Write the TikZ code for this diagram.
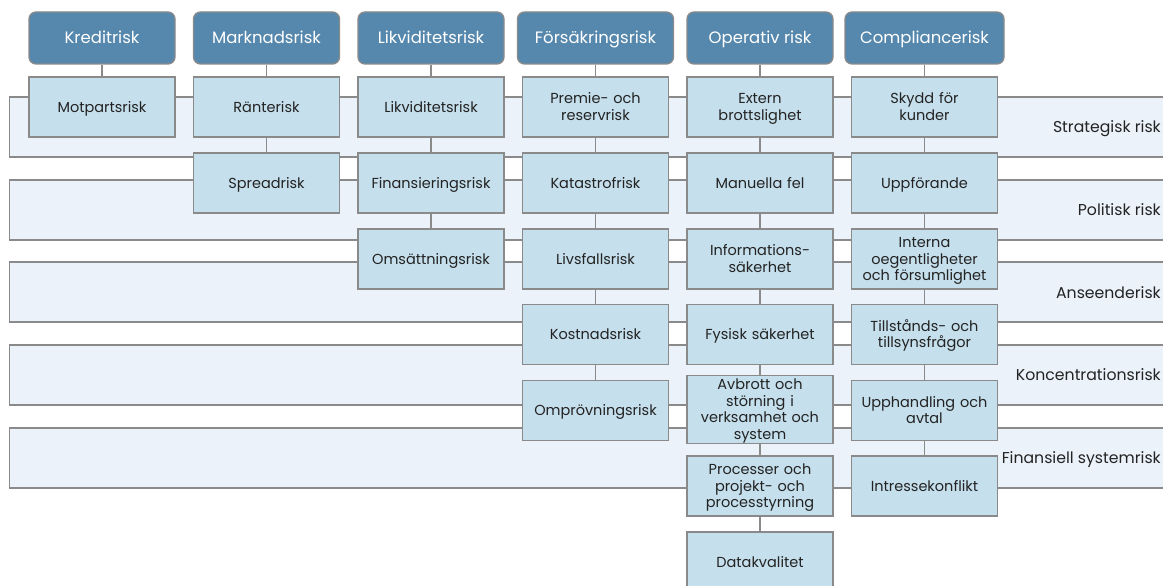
\documentclass[tikz,border=0pt]{standalone}
\usepackage{fontspec}
\setmainfont{Poppins}
\definecolor{headblue}{RGB}{86,136,173}
\definecolor{boxblue}{RGB}{197,223,236}
\definecolor{bandblue}{RGB}{235,242,249}
\definecolor{linegray}{RGB}{138,138,138}
\definecolor{txtgray}{RGB}{35,35,35}

\begin{document}
\begin{tikzpicture}[x=1pt, y=-1pt,
  head/.style={draw=linegray, fill=headblue, rounded corners=7pt, line width=1.3pt, minimum width=146pt, minimum height=52pt, inner sep=0pt, text height=15.6pt, text depth=4pt, text=white, font=\fontsize{16.5}{19}\selectfont},
  sub/.style={draw=linegray, fill=boxblue, line width=1.3pt, minimum width=146pt, minimum height=60pt, inner sep=0pt, text width=144pt, align=center, text=txtgray, font=\fontsize{14.5}{16.5}\selectfont,
    execute at begin node={\rule{0pt}{14.2pt}}, execute at end node={\rule[-4pt]{0pt}{0pt}}},
  band/.style={draw=linegray, fill=bandblue, line width=1.3pt},
  bandlabel/.style={anchor=east, inner sep=0pt, text height=15pt, text depth=4pt, text=txtgray, font=\fontsize{15.7}{18}\selectfont},
  link/.style={draw=linegray, line width=1.3pt}]
  \useasboundingbox (0,0) rectangle (1163,586);
  \clip (0,0) rectangle (1163,586);

  % Risk bands behind the boxes
  \draw[band] (9.5,97) rectangle (1180,157);
  \draw[band] (9.5,180) rectangle (1180,240);
  \draw[band] (9.5,262) rectangle (1180,322);
  \draw[band] (9.5,345) rectangle (1180,405);
  \draw[band] (9.5,428) rectangle (1180,488);
  \node[bandlabel] (strat) at (1161,127) {Strategisk risk};
  \node[bandlabel] (polit) at (1161,210) {Politisk risk};
  \node[bandlabel] (anseende) at (1161,293) {Anseenderisk};
  \node[bandlabel] (konc) at (1161,375) {Koncentrationsrisk};
  \node[bandlabel] (finsys) at (1161,458) {Finansiell systemrisk};

  % Main categories
  \node[head] (kredit) at (102,38) {Kreditrisk};
  \node[head] (marknad) at (266.5,38) {Marknadsrisk};
  \node[head] (likvid) at (431,38) {Likviditetsrisk};
  \node[head, minimum width=156pt] (forsak) at (595.5,38) {Försäkringsrisk};
  \node[head] (operativ) at (760,38) {Operativ risk};
  \node[head, minimum width=159pt] (compl) at (924.5,38) {Compliancerisk};

  % Kreditrisk
  \node[sub] (motpart) at (102,107) {Motpartsrisk};

  % Marknadsrisk
  \node[sub] (ranta) at (266.5,107) {Ränterisk};
  \node[sub] (spread) at (266.5,183) {Spreadrisk};

  % Likviditetsrisk
  \node[sub] (likv) at (431,107) {Likviditetsrisk};
  \node[sub] (finans) at (431,183) {Finansieringsrisk};
  \node[sub] (omsatt) at (431,259) {Omsättningsrisk};

  % Försäkringsrisk
  \node[sub] (premie) at (595.5,107) {Premie- och\\reservrisk};
  \node[sub] (katastrof) at (595.5,183) {Katastrofrisk};
  \node[sub] (livsfall) at (595.5,259) {Livsfallsrisk};
  \node[sub] (kostnad) at (595.5,334.5) {Kostnadsrisk};
  \node[sub] (omprov) at (595.5,410.5) {Omprövningsrisk};

  % Operativ risk
  \node[sub] (extern) at (760,107) {Extern\\brottslighet};
  \node[sub] (manuell) at (760,183) {Manuella fel};
  \node[sub] (info) at (760,259) {Informations-\\säkerhet};
  \node[sub] (fysisk) at (760,334.5) {Fysisk säkerhet};
  \node[sub, minimum height=65pt] (avbrott) at (760,409.5) {Avbrott och\\störning i\\verksamhet och\\system};
  \node[sub] (process) at (760,486) {Processer och\\projekt- och\\processtyrning};
  \node[sub] (data) at (760,562) {Datakvalitet};

  % Compliancerisk
  \node[sub] (skydd) at (924.5,107) {Skydd för\\kunder};
  \node[sub] (uppf) at (924.5,183) {Uppförande};
  \node[sub] (interna) at (924.5,259) {Interna\\oegentligheter\\och försumlighet};
  \node[sub] (tillstand) at (924.5,334.5) {Tillstånds- och\\tillsynsfrågor};
  \node[sub] (upphandl) at (924.5,410.5) {Upphandling och\\avtal};
  \node[sub] (intresse) at (924.5,486) {Intressekonflikt};

  % Column links
  \draw[link] (kredit) -- (motpart);
  \draw[link] (marknad) -- (ranta) -- (spread);
  \draw[link] (likvid) -- (likv) -- (finans) -- (omsatt);
  \draw[link] (forsak) -- (premie) -- (katastrof) -- (livsfall) -- (kostnad) -- (omprov);
  \draw[link] (operativ) -- (extern) -- (manuell) -- (info) -- (fysisk) -- (avbrott) -- (process) -- (data);
  \draw[link] (compl) -- (skydd) -- (uppf) -- (interna) -- (tillstand) -- (upphandl) -- (intresse);
\end{tikzpicture}
\end{document}
